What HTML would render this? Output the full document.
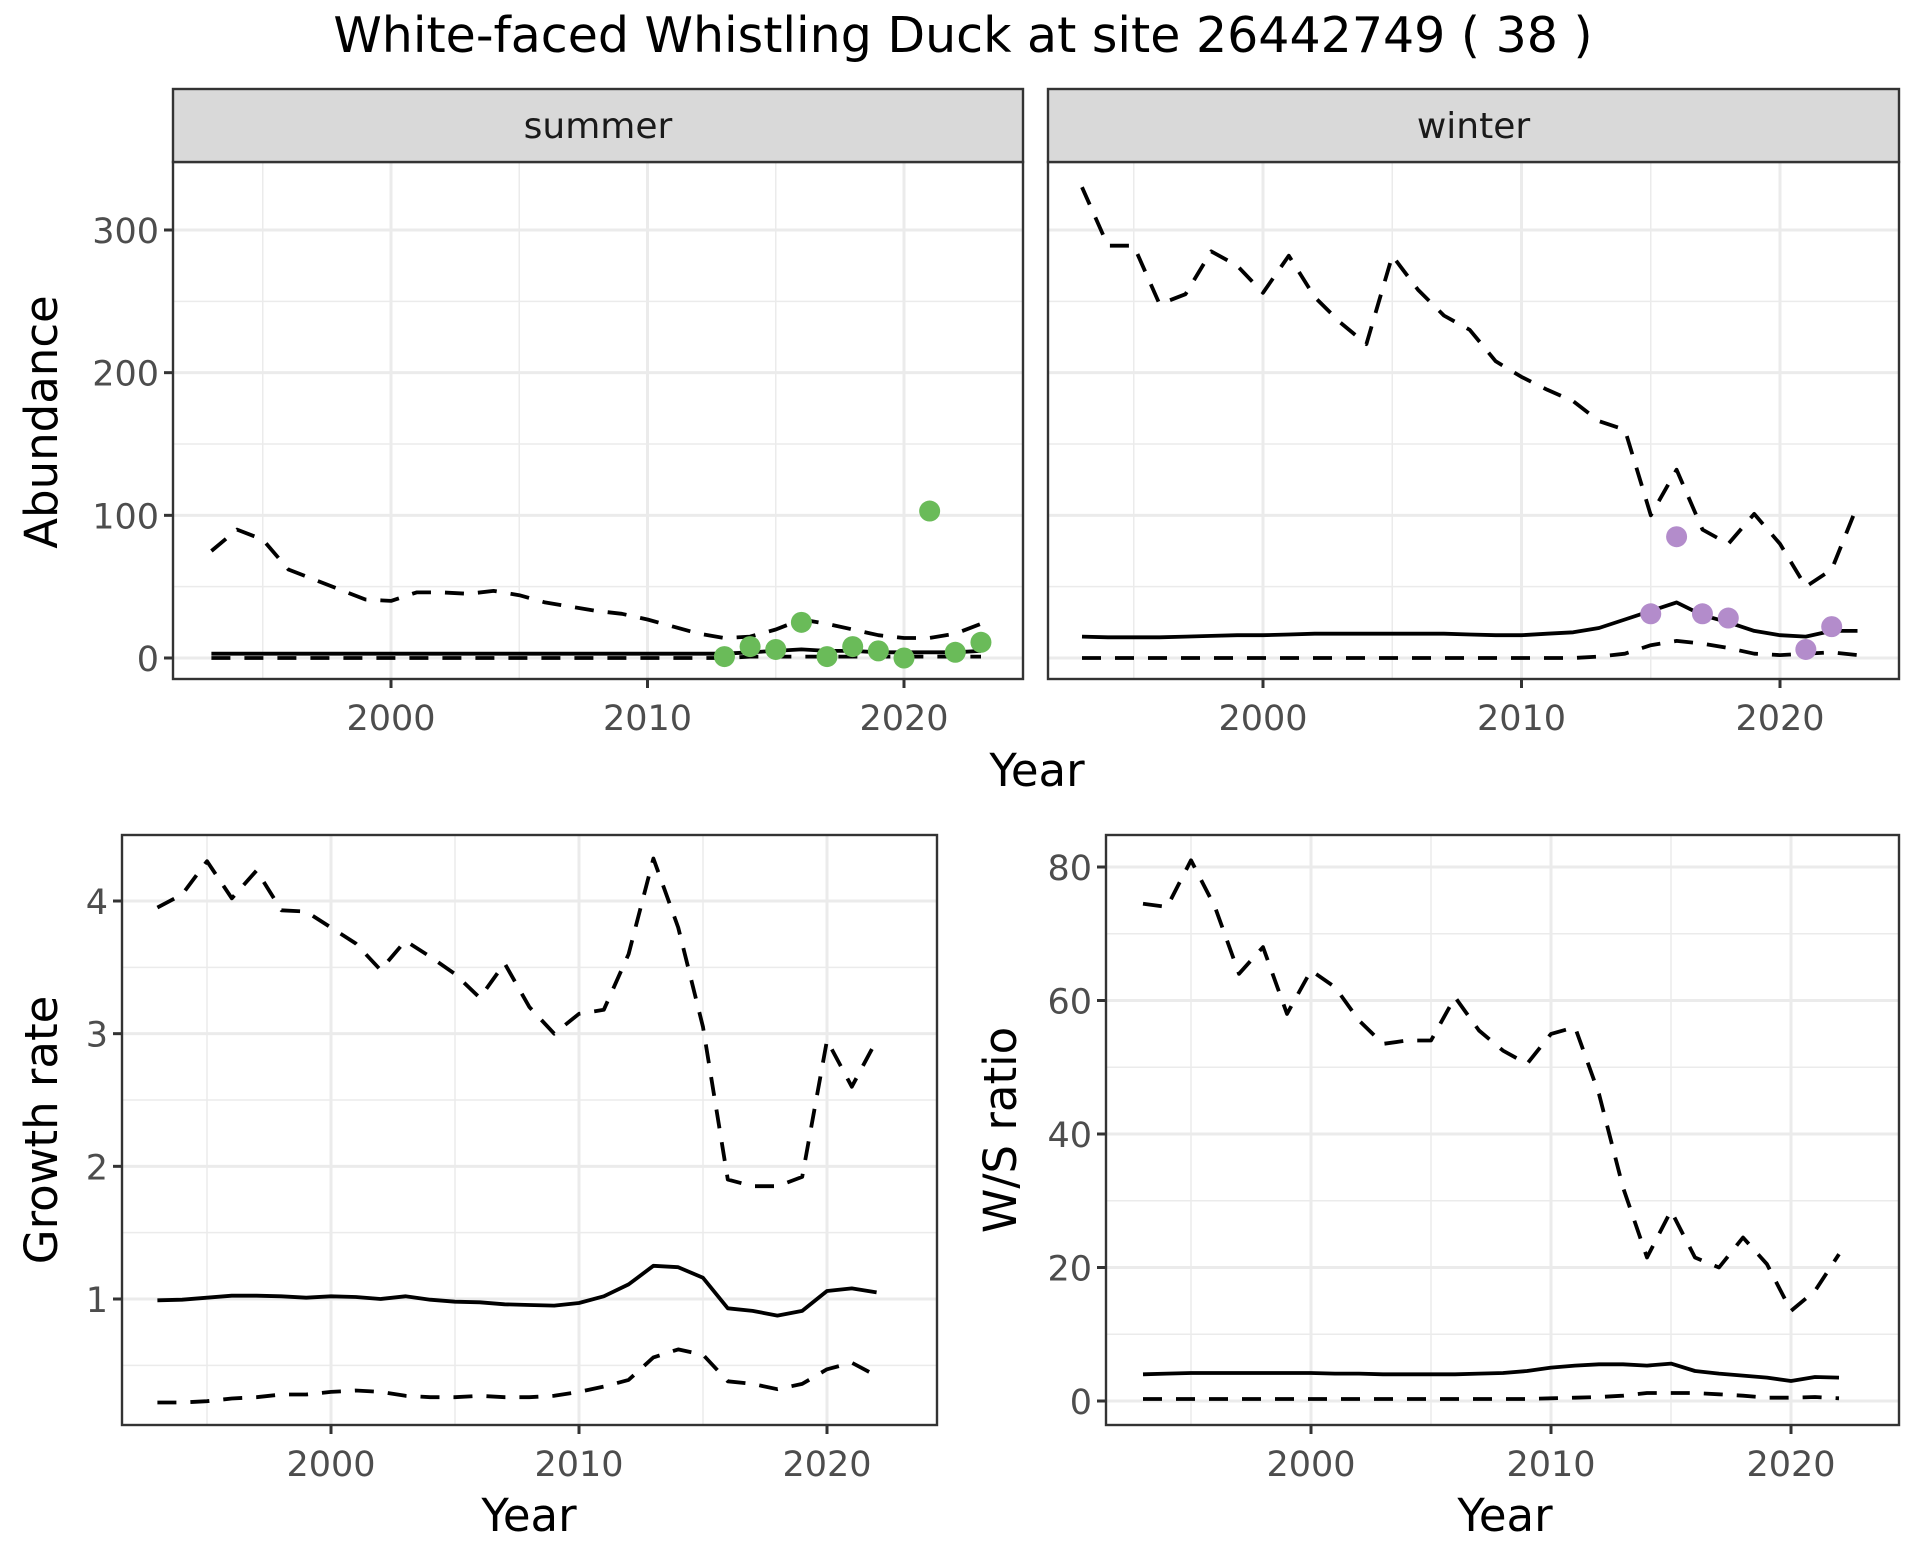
<!DOCTYPE html>
<html><head><meta charset="utf-8">
<style>
html,body{margin:0;padding:0;background:#fff;}
svg{display:block;font-family:"DejaVu Sans","Liberation Sans",sans-serif;}
</style></head>
<body>
<svg id="chart" width="1920" height="1560" viewBox="0 0 1920 1560" xmlns="http://www.w3.org/2000/svg">
<text x="963" y="52" font-size="49" text-anchor="middle" fill="#000">White-faced Whistling Duck at site 26442749 ( 38 )</text>
</svg>
<script>
const yearsA = [1993,1994,1995,1996,1997,1998,1999,2000,2001,2002,2003,2004,2005,2006,2007,2008,2009,2010,2011,2012,2013,2014,2015,2016,2017,2018,2019,2020,2021,2022,2023];
const summerUpper = [75,90,83,62,55,48,41,40,46,46,45,47,44,39,36,33,31,27,22,17,14,15,20,27,24,20,16,14,14,17,24];
const summerMean = [3,3,3,3,3,3,3,3,3,3,3,3,3,3,3,3,3,3,3,3,3,4,5,6,5,5,4,4,4,4,5];
const summerLower = [0,0,0,0,0,0,0,0,0,0,0,0,0,0,0,0,0,0,0,0,0,1,1,1,1,1,1,1,1,1,1];
const summerPtYears = [2013,2014,2015,2016,2017,2018,2019,2020,2021,2022,2023];
const summerPts = [1,8,6,25,1,8,5,0,103,4,11];
const winterUpper = [330,289,289,248,255,285,275,256,282,253,235,220,282,258,240,230,208,197,188,180,166,160,100,132,90,80,101,80,50,62,107];
const winterMean = [15,14.5,14.5,14.5,15,15.5,16,16,16.5,17,17,17,17,17,17,16.5,16,16,17,18,21,27,33,39,30,25,19,16,15,19,19];
const winterLower = [0,0,0,0,0,0,0,0,0,0,0,0,0,0,0,0,0,0,0,0,1,3,9,12,10,7,3,2,3,4,2];
const winterPtYears = [2015,2016,2017,2018,2021,2022];
const winterPts = [31,85,31,28,6,22];
const yearsB = [1993,1994,1995,1996,1997,1998,1999,2000,2001,2002,2003,2004,2005,2006,2007,2008,2009,2010,2011,2012,2013,2014,2015,2016,2017,2018,2019,2020,2021,2022];
const growthUpper = [3.95,4.05,4.3,4.02,4.23,3.93,3.92,3.8,3.68,3.48,3.7,3.58,3.45,3.27,3.53,3.2,3.0,3.15,3.18,3.6,4.32,3.8,3.05,1.9,1.85,1.85,1.92,2.95,2.6,2.95];
const growthMean = [0.99,0.995,1.01,1.025,1.025,1.02,1.01,1.02,1.015,1.0,1.02,0.995,0.98,0.975,0.96,0.955,0.95,0.97,1.02,1.11,1.25,1.24,1.16,0.93,0.91,0.875,0.91,1.06,1.08,1.05];
const growthLower = [0.22,0.22,0.23,0.25,0.26,0.28,0.28,0.3,0.31,0.3,0.27,0.26,0.26,0.27,0.26,0.26,0.27,0.3,0.34,0.39,0.56,0.62,0.58,0.38,0.36,0.32,0.36,0.47,0.52,0.42];
const ratioUpper = [74.5,74,81,74,64,68,58,64.5,62,57,53.5,54,54,60.5,55.5,52.5,50.5,55,56,46,32,21.5,28.5,21.5,20,24.5,20.5,13.5,16.5,22];
const ratioMean = [4,4.1,4.2,4.2,4.2,4.2,4.2,4.2,4.1,4.1,4.0,4.0,4.0,4.0,4.1,4.2,4.5,5,5.3,5.5,5.5,5.3,5.6,4.5,4.1,3.8,3.5,3,3.6,3.5];
const ratioLower = [0.3,0.3,0.3,0.3,0.3,0.3,0.3,0.3,0.3,0.3,0.3,0.3,0.3,0.3,0.3,0.3,0.3,0.4,0.5,0.6,0.8,1.2,1.2,1.2,1.0,0.8,0.5,0.5,0.6,0.4];
const abundTicks = [0,100,200,300];
const abundMinor = [50,150,250];
const growthTicks = [1,2,3,4];
const growthMinor = [0.5,1.5,2.5,3.5];
const ratioTicks = [0,20,40,60,80];
const ratioMinor = [10,30,50,70];
const yearTicks = [2000,2010,2020];
const yearMinor = [1995,2005,2015];

const svg = document.getElementById('chart');
const NS = 'http://www.w3.org/2000/svg';
function mk(tag, attrs, parent){
  const e = document.createElementNS(NS, tag);
  for (const k in attrs) e.setAttribute(k, attrs[k]);
  (parent||svg).appendChild(e);
  return e;
}
function lin(d0,d1,r0,r1){return v => r0 + (v-d0)*(r1-r0)/(d1-d0);}

function panel(p){
  const g = mk('g', {});
  
  
  const xs = lin(2000,2020,p.x2000,p.x2020);
  const ys = lin(p.v0,p.v1,p.y0,p.y1);
  mk('rect',{x:p.L,y:p.T,width:p.R-p.L,height:p.B-p.T,fill:'#fff'},g);
  yearMinor.forEach(v=>{const l=mk('line',{x1:xs(v),x2:xs(v),y1:p.T,y2:p.B,stroke:'#ebebeb','stroke-width':1.5},g);
    });
  p.minor.forEach(v=>{const l=mk('line',{x1:p.L,x2:p.R,y1:ys(v),y2:ys(v),stroke:'#ebebeb','stroke-width':1.5},g);
    });
  yearTicks.forEach(v=>{const l=mk('line',{x1:xs(v),x2:xs(v),y1:p.T,y2:p.B,stroke:'#ebebeb','stroke-width':3},g);
    });
  p.ticks.forEach(v=>{const l=mk('line',{x1:p.L,x2:p.R,y1:ys(v),y2:ys(v),stroke:'#ebebeb','stroke-width':3},g);
    });
  const series = [[p.upper,true],[p.lower,true],[p.mean,false]];
  series.forEach(([arr,dash],i)=>{
    const d = arr.map((v,j)=>(j?'L':'M')+xs(p.years[j]).toFixed(1)+','+ys(v).toFixed(1)).join(' ');
    const path = mk('path',{d:d,fill:'none',stroke:'#000','stroke-width':3.8,'stroke-dasharray':dash?'19 14':'none','stroke-linejoin':'round'},g);
    
    
  });
  if (p.pts){
    p.pts.forEach((v,j)=>{
      const c = mk('circle',{cx:xs(p.ptYears[j]),cy:ys(v),r:10.5,fill:p.ptColor},g);
      
      
    });
  }
  const border = mk('rect',{x:p.L,y:p.T,width:p.R-p.L,height:p.B-p.T,fill:'none',stroke:'#333','stroke-width':2.4},g);
  
  
  yearTicks.forEach(v=>{
    mk('line',{x1:xs(v),x2:xs(v),y1:p.B,y2:p.B+9,stroke:'#333','stroke-width':3},g);
    const t = mk('text',{x:xs(v),y:p.B+51,'font-size':35,fill:'#4d4d4d','text-anchor':'middle'},g);
    t.textContent = v;
    
    
  });
  if (p.yLabels){
    p.ticks.forEach(v=>{
      mk('line',{x1:p.L-9,x2:p.L,y1:ys(v),y2:ys(v),stroke:'#333','stroke-width':3},g);
      const t = mk('text',{x:p.L-14,y:ys(v)+13,'font-size':35,fill:'#4d4d4d','text-anchor':'end'},g);
      t.textContent = v;
      
      
    });
  }
  if (p.strip){
    const s = mk('rect',{x:p.L,y:p.T-73,width:p.R-p.L,height:73,fill:'#d9d9d9',stroke:'#333','stroke-width':2.4},g);
    
    
    const st = mk('text',{x:(p.L+p.R)/2,y:p.T-24,'font-size':36,fill:'#1a1a1a','text-anchor':'middle'},g);
    st.textContent = p.strip;
    
    
  }
}

panel({name:'summer-abundance-panel',L:173,R:1023,T:162,B:679,x2000:391,x2020:904,v0:0,v1:300,y0:658,y1:230,
  ticks:abundTicks,minor:abundMinor,years:yearsA,upper:summerUpper,mean:summerMean,lower:summerLower,
  pts:summerPts,ptYears:summerPtYears,ptColor:'#6abb59',yLabels:true,strip:'summer'});
panel({name:'winter-abundance-panel',L:1048,R:1899,T:162,B:679,x2000:1263,x2020:1780,v0:0,v1:300,y0:658,y1:230,
  ticks:abundTicks,minor:abundMinor,years:yearsA,upper:winterUpper,mean:winterMean,lower:winterLower,
  pts:winterPts,ptYears:winterPtYears,ptColor:'#b38ccb',yLabels:false,strip:'winter'});
panel({name:'growth-rate-panel',L:122,R:937,T:835,B:1425,x2000:331,x2020:827,v0:1,v1:4,y0:1299,y1:901,
  ticks:growthTicks,minor:growthMinor,years:yearsB,upper:growthUpper,mean:growthMean,lower:growthLower,yLabels:true});
panel({name:'ws-ratio-panel',L:1106,R:1899,T:835,B:1425,x2000:1311,x2020:1791,v0:0,v1:80,y0:1401,y1:867,
  ticks:ratioTicks,minor:ratioMinor,years:yearsB,upper:ratioUpper,mean:ratioMean,lower:ratioLower,yLabels:true});

function label(txt,x,y,rot,name){
  const t = mk('text',{x:x,y:y,'font-size':45,fill:'#000','text-anchor':'middle',transform:rot?`rotate(-90 ${x} ${y})`:''});
  t.textContent = txt;
  
  
}
label('Year',1037,786,false,'top-x-axis-title');
label('Abundance',57,422,true,'abundance-y-axis-title');
label('Year',529,1531,false,'growth-x-axis-title');
label('Growth rate',57,1130,true,'growth-y-axis-title');
label('Year',1505,1531,false,'ratio-x-axis-title');
label('W/S ratio',1016,1130,true,'ratio-y-axis-title');
</script>
</body></html>
